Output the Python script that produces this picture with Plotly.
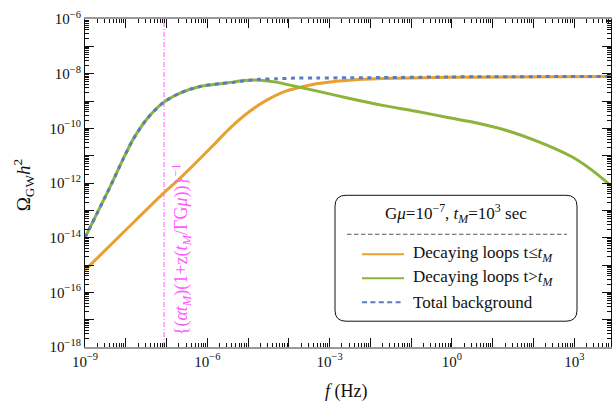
import plotly.graph_objects as go

# ---------------- data ----------------
# Decaying loops t <= t_M (orange)
f_early = [1e-9, 1e-8, 9.1e-8, 2.1e-7, 1.4e-6, 3.5e-6, 1.1e-5, 2.8e-5, 7.2e-5,
           1.5e-4, 4.7e-4, 3.1e-3, 2.0e-2, 0.85, 7950]
omega_early = [6.5e-16, 1.9e-14, 4.7e-13, 1.45e-12, 2.4e-11, 9.8e-11, 4.2e-10, 1.05e-9, 2.1e-9,
               2.9e-9, 4.3e-9, 5.8e-9, 6.6e-9, 7.4e-9, 7.9e-9]

# Decaying loops t > t_M (green)
f_late = [1e-9, 3.16e-9, 5.0e-9, 8.7e-9, 1.55e-8, 3.3e-8, 8.3e-8, 2.14e-7, 6.6e-7, 2.04e-6,
          4.27e-6, 7.6e-6, 1.95e-5, 4.9e-5, 1.5e-4, 4.7e-4, 3.1e-3, 2.0e-2, 0.132, 0.85,
          3.16, 20.9, 135, 891, 2754, 7950]
omega_late = [1.0e-14, 3.2e-13, 1.32e-12, 7.8e-12, 4.2e-11, 2.2e-10, 8.7e-10, 1.95e-9, 3.4e-9, 4.3e-9,
              4.9e-9, 5.6e-9, 5.75e-9, 4.9e-9, 3.4e-9, 2.35e-9, 1.23e-9, 6.9e-10, 4.2e-10, 2.45e-10,
              1.7e-10, 8.5e-11, 3.2e-11, 8.9e-12, 2.9e-12, 7.9e-13]

# Total background (blue dotted)
f_total = [1e-9, 3.16e-9, 5.0e-9, 8.7e-9, 1.55e-8, 3.3e-8, 8.3e-8, 2.14e-7, 6.6e-7, 2.04e-6,
           4.27e-6, 7.6e-6, 1.95e-5, 4.9e-5, 1.5e-4, 4.7e-4, 3.1e-3, 2.0e-2, 0.85, 7950]
omega_total = [1.0e-14, 3.2e-13, 1.32e-12, 7.8e-12, 4.2e-11, 2.2e-10, 8.7e-10, 1.95e-9, 3.4e-9, 4.3e-9,
               4.8e-9, 5.4e-9, 6.2e-9, 6.5e-9, 6.9e-9, 6.9e-9, 7.1e-9, 7.2e-9, 7.6e-9, 7.9e-9]

# transition frequency marker
f_marker = 8.7e-8

x_range_log = [-9, 3.9]
y_range_log = [-18, -6]
x_decades = [10.0 ** n for n in range(-9, 4)]
y_decades = [10.0 ** n for n in range(-18, -5)]
x_label_vals = [10.0 ** n for n in range(-9, 4, 3)]
x_label_text = ["10<sup>%s</sup>" % str(n).replace("-", "−") for n in range(-9, 4, 3)]
y_label_vals = [10.0 ** n for n in range(-18, -5, 2)]
y_label_text = ["10<sup>%s</sup>" % str(n).replace("-", "−") for n in range(-18, -5, 2)]
x_minor = [k * 10.0 ** n for n in range(-9, 4) for k in range(2, 10)]
y_minor = [k * 10.0 ** n for n in range(-18, -6) for k in range(2, 10)]

ORANGE = "#E8A030"
GREEN = "#8DB43A"
BLUE = "#587CBE"
MAGENTA = "#FF5AFF"
FONT = "Liberation Serif"

# ---------------- layout geometry (pixels) ----------------
W, H = 614, 402
L, R, T, B = 85, 611, 18.6, 346.8


def px(x):
    return (x - L) / (R - L)


def py(y):
    return (B - y) / (B - T)


fig = go.Figure()

fig.add_trace(go.Scatter(x=[f_marker, f_marker], y=[10.0 ** y_range_log[0], 10.0 ** y_range_log[1]],
                         mode="lines", line=dict(color=MAGENTA, width=1, dash="5px,2px,1px,2px"),
                         hoverinfo="skip", showlegend=False))
fig.add_trace(go.Scatter(x=f_early, y=omega_early, mode="lines",
                         line=dict(color=ORANGE, width=3, shape="spline", smoothing=0.8), showlegend=False))
fig.add_trace(go.Scatter(x=f_late, y=omega_late, mode="lines",
                         line=dict(color=GREEN, width=3, shape="spline", smoothing=0.8), showlegend=False))
fig.add_trace(go.Scatter(x=f_total, y=omega_total, mode="lines",
                         line=dict(color=BLUE, width=3, dash="4px,4.5px", shape="spline", smoothing=0.8),
                         showlegend=False))
# invisible anchor trace for the overlay (decade tick) axes
fig.add_trace(go.Scatter(x=[x_decades[0]], y=[y_decades[0]], xaxis="x2", yaxis="y2", mode="markers",
                         marker=dict(opacity=0), hoverinfo="skip", showlegend=False))

tick_common = dict(type="log", showgrid=False, zeroline=False, ticks="inside", tickwidth=1,
                   tickcolor="#111", mirror="allticks", tickmode="array")

fig.update_layout(
    xaxis=dict(**tick_common, range=x_range_log, tickvals=x_label_vals, ticktext=x_label_text,
               ticklen=9, showline=True, linecolor="#999", linewidth=1.5,
               tickfont=dict(family=FONT, size=15, color="#111"),
               minor=dict(tickmode="array", tickvals=x_minor, ticks="inside", ticklen=4,
                          tickcolor="#111", tickwidth=1)),
    yaxis=dict(**tick_common, range=y_range_log, tickvals=y_label_vals, ticktext=y_label_text,
               ticklen=9, showline=True, linecolor="#111", linewidth=1,
               tickfont=dict(family=FONT, size=15, color="#111"),
               minor=dict(tickmode="array", tickvals=y_minor, ticks="inside", ticklen=4,
                          tickcolor="#111", tickwidth=1)),
    xaxis2=dict(**tick_common, range=x_range_log, tickvals=x_decades, ticklen=9, overlaying="x",
                anchor="y2", side="bottom", showticklabels=False, showline=False),
    yaxis2=dict(**tick_common, range=y_range_log, tickvals=y_decades, ticklen=9, overlaying="y",
                anchor="x2", side="left", showticklabels=False, showline=False),
)

# ---------------- legend box (drawn manually) ----------------
bx0, bx1, by0, by1 = 335, 577, 195, 321
rad = 11
x0, x1 = px(bx0), px(bx1)
yt, yb = py(by0), py(by1)
rx = rad / (R - L)
ry = rad / (B - T)
path = (f"M {x0+rx},{yt} L {x1-rx},{yt} Q {x1},{yt} {x1},{yt-ry} "
        f"L {x1},{yb+ry} Q {x1},{yb} {x1-rx},{yb} L {x0+rx},{yb} Q {x0},{yb} {x0},{yb+ry} "
        f"L {x0},{yt-ry} Q {x0},{yt} {x0+rx},{yt} Z")
shapes = [dict(type="path", path=path, xref="paper", yref="paper",
               line=dict(color="#111", width=1), fillcolor="white", layer="above")]
shapes.append(dict(type="line", xref="paper", yref="paper", x0=px(347), x1=px(567), y0=py(234), y1=py(234),
                   line=dict(color="#555", width=1, dash="4.5px,2.5px"), layer="above"))

entries = [
    (254, ORANGE, "solid", "Decaying loops t≤<i>t</i><sub><i>M</i></sub>"),
    (278, GREEN, "solid", "Decaying loops t&gt;<i>t</i><sub><i>M</i></sub>"),
    (302, BLUE, "5px,3.4px", "Total background"),
]
annotations = []
for yy, col, dash, label in entries:
    shapes.append(dict(type="line", xref="paper", yref="paper", x0=px(362), x1=px(404), y0=py(yy), y1=py(yy),
                       line=dict(color=col, width=2, dash=dash), layer="above"))
    annotations.append(dict(x=px(411), y=py(yy), xref="paper", yref="paper", text=label,
                            showarrow=False, xanchor="left", yanchor="middle",
                            font=dict(family=FONT, size=17, color="#111")))

annotations.append(dict(x=px(456), y=py(213), xref="paper", yref="paper",
                        text="G<i>μ</i>=10<sup>−7</sup>, <i>t</i><sub><i>M</i></sub>=10<sup>3</sup> sec",
                        showarrow=False, xanchor="center", yanchor="middle",
                        font=dict(family=FONT, size=17, color="#111")))

# rotated marker label
annotations.append(dict(x=px(181), y=py(249), xref="paper", yref="paper", textangle=-90,
                        text="{(<i>αt</i><sub><i>M</i></sub>)(1+z(<i>t</i><sub><i>M</i></sub>/ΓG<i>μ</i>))}<sup>−1</sup>",
                        showarrow=False, xanchor="center", yanchor="middle",
                        font=dict(family=FONT, size=18, color=MAGENTA)))

# axis titles
annotations.append(dict(x=px(23), y=py(185), xref="paper", yref="paper", textangle=-90,
                        text="Ω<sub>GW</sub><i>h</i><sup>2</sup>", showarrow=False,
                        xanchor="center", yanchor="middle",
                        font=dict(family=FONT, size=19, color="#111")))
annotations.append(dict(x=px(346), y=py(391), xref="paper", yref="paper",
                        text="<i>f</i> (Hz)", showarrow=False,
                        xanchor="center", yanchor="middle",
                        font=dict(family=FONT, size=18, color="#111")))

fig.update_layout(
    width=W, height=H,
    margin=dict(l=L, r=W - R, t=T, b=H - B),
    paper_bgcolor="white", plot_bgcolor="white",
    shapes=shapes, annotations=annotations,
    showlegend=False,
)

fig.write_html("out.html")
